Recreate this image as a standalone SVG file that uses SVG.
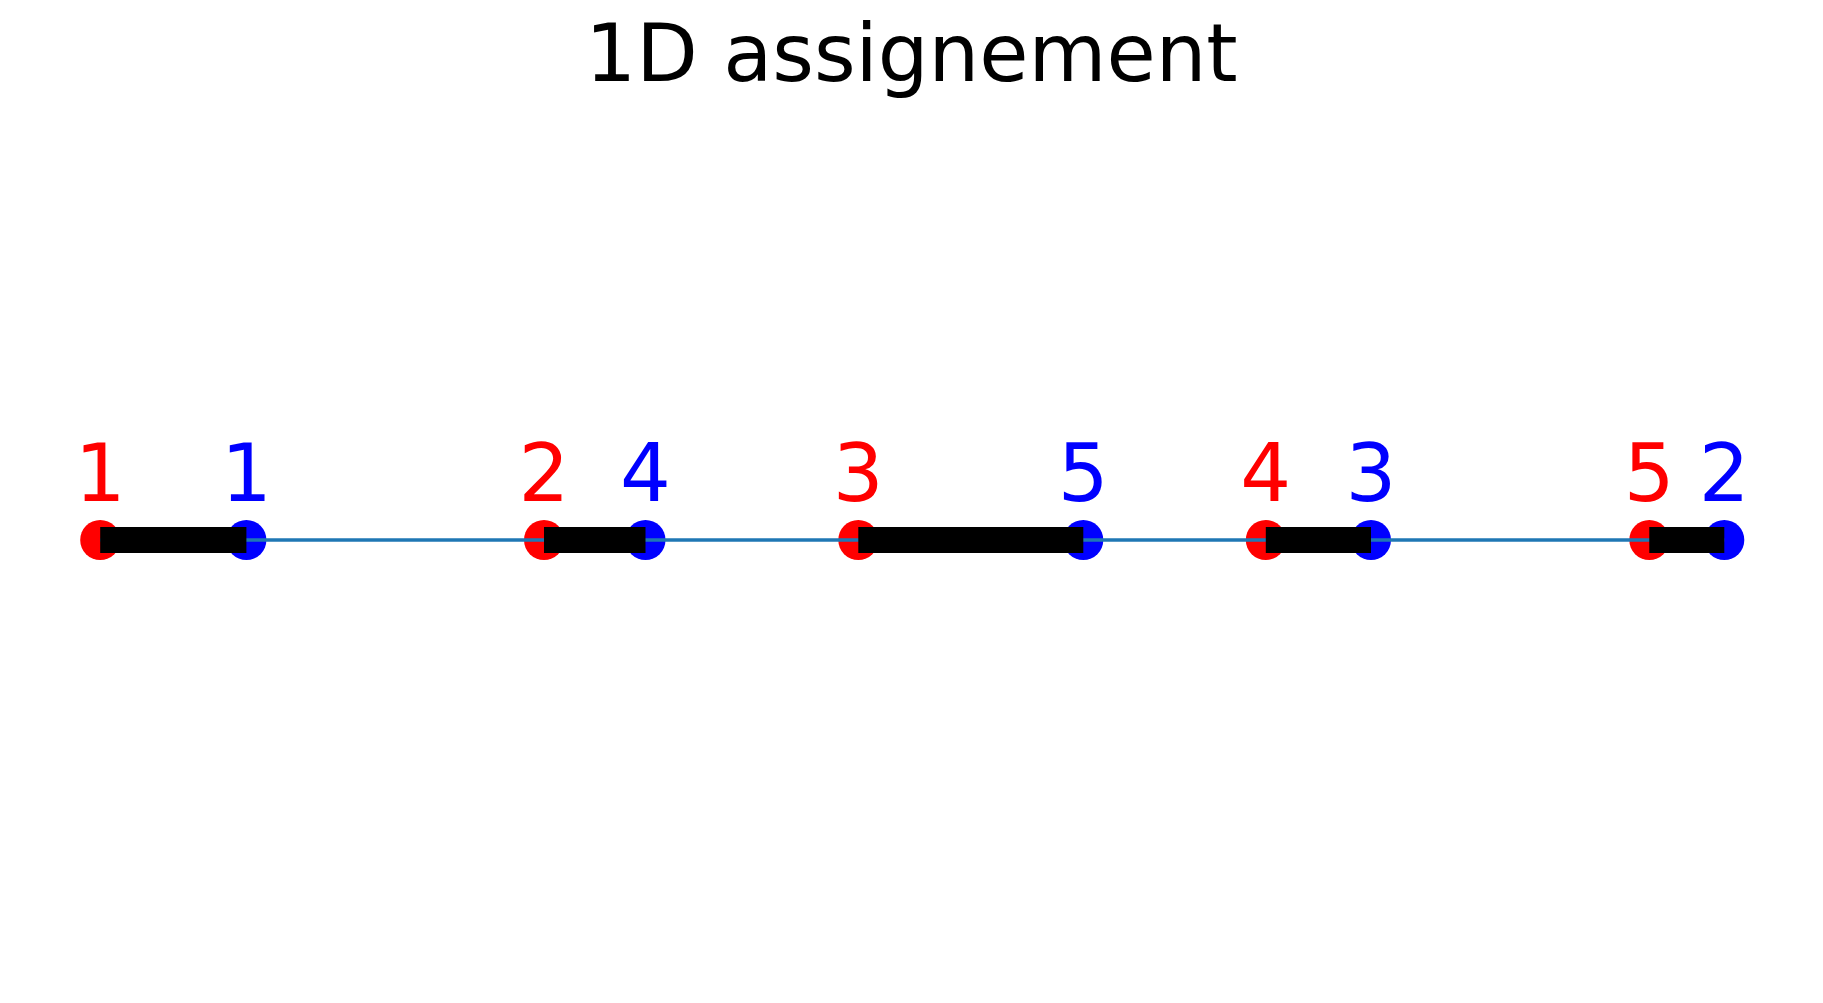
<svg xmlns="http://www.w3.org/2000/svg" width="1823" height="1003" viewBox="0 0 1823 1003">
<style>
text { font-family: "DejaVu Sans", sans-serif; font-size: 80px; text-anchor: middle; }
.r { fill: #ff0000; }
.b { fill: #0000ff; }
.bar { stroke: #000000; stroke-width: 26; }
</style>
<rect width="1823" height="1003" fill="#ffffff"/>
<text x="911.5" y="81" fill="#000000">1D assignement</text>
<g id="points">
<g id="r1"><circle class="r" cx="100.2" cy="540" r="20"/><text class="r" x="100.2" y="500.5">1</text></g>
<g id="b1"><circle class="b" cx="246.4" cy="540" r="20"/><text class="b" x="246.4" y="500.5">1</text></g>
<g id="r2"><circle class="r" cx="544" cy="540" r="20"/><text class="r" x="544" y="500.5">2</text></g>
<g id="b4"><circle class="b" cx="645.5" cy="540" r="20"/><text class="b" x="645.5" y="500.5">4</text></g>
<g id="r3"><circle class="r" cx="858.3" cy="540" r="20"/><text class="r" x="858.3" y="500.5">3</text></g>
<g id="b5"><circle class="b" cx="1083.3" cy="540" r="20"/><text class="b" x="1083.3" y="500.5">5</text></g>
<g id="r4"><circle class="r" cx="1265.8" cy="540" r="20"/><text class="r" x="1265.8" y="500.5">4</text></g>
<g id="b3"><circle class="b" cx="1371" cy="540" r="20"/><text class="b" x="1371" y="500.5">3</text></g>
<g id="r5"><circle class="r" cx="1649.3" cy="540" r="20"/><text class="r" x="1649.3" y="500.5">5</text></g>
<g id="b2"><circle class="b" cx="1724.3" cy="540" r="20"/><text class="b" x="1724.3" y="500.5">2</text></g>
</g>
<g id="connectors">
<line x1="100.2" y1="540" x2="1724.3" y2="540" stroke="#1f77b4" stroke-width="3.5"/>
<line class="bar" x1="100.2" y1="540" x2="246.4" y2="540"/>
<line class="bar" x1="544" y1="540" x2="645.5" y2="540"/>
<line class="bar" x1="858.3" y1="540" x2="1083.3" y2="540"/>
<line class="bar" x1="1265.8" y1="540" x2="1371" y2="540"/>
<line class="bar" x1="1649.3" y1="540" x2="1724.3" y2="540"/>
</g>
</svg>
